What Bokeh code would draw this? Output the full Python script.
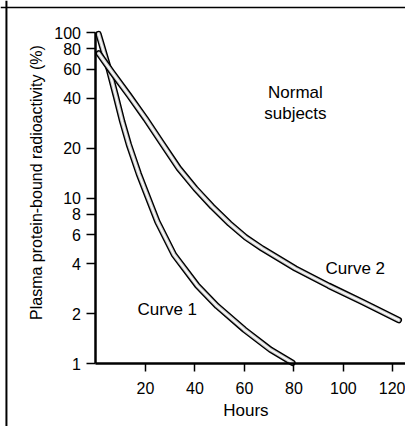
import math
from bokeh.plotting import figure
from bokeh.models import Range1d, FixedTicker, Label, Span
from bokeh.embed import file_html
from bokeh.resources import INLINE

# ---- data ----
curve1_hours = [1.0, 5.2, 7.9, 10.6, 13.3, 17.3, 20, 24.8, 31.5, 41, 49, 60, 70.6, 79.4]
curve1_values = [98, 60, 42, 29, 21, 14, 11.0, 7.2, 4.55, 2.95, 2.22, 1.6, 1.21, 1.01]

curve2_hours = [1.1, 6.5, 13.3, 20, 26.8, 33.5, 40.2, 47, 54, 60.4, 67.2, 80.6, 94.1, 107.6, 122.4]
curve2_values = [74.7, 57.5, 41.8, 30.2, 21.3, 15.1, 11.4, 8.85, 7.0, 5.8, 4.95, 3.75, 2.95, 2.36, 1.83]

x_ticks = [20, 40, 60, 80, 100, 120]
y_ticks = [1, 2, 4, 6, 8, 10, 20, 40, 60, 80, 100]
y_tick_labels = ["1", "2", "4", "6", "8", "10", "20", "40", "60", "80", "100"]

FONT = "Liberation Sans"

# The plotting frame covers the whole canvas; the axes sit at fixed positions
# inside it (hours = 0, value = 1), as in the scanned figure.
p = figure(width=405, height=426,
           x_range=Range1d(-38.6, 125.1), y_range=Range1d(0.4163, 156.1),
           y_axis_type="log", output_backend="svg", toolbar_location=None,
           min_border_left=0, min_border_right=0,
           min_border_top=0, min_border_bottom=0)
p.outline_line_color = None
p.grid.visible = False
p.background_fill_color = "white"
p.border_fill_color = "white"

for ax in (p.xaxis[0], p.yaxis[0]):
    ax.axis_line_width = 2.5
    ax.axis_line_color = "black"
    ax.major_tick_line_width = 1.5
    ax.major_tick_line_color = "black"
    ax.major_tick_in = 0
    ax.minor_tick_line_color = None
    ax.major_label_text_font = FONT
    ax.major_label_text_font_size = "16px"
    ax.major_label_text_color = "black"

p.xaxis.fixed_location = 1
p.xaxis.bounds = (0, 125.1)
p.xaxis.ticker = FixedTicker(ticks=x_ticks)
p.xaxis.major_tick_out = 8
p.xaxis.major_label_standoff = 10

p.yaxis.fixed_location = 0
p.yaxis.bounds = (1, 100)
p.yaxis.ticker = FixedTicker(ticks=y_ticks)
p.yaxis.major_label_overrides = {t: s for t, s in zip(y_ticks, y_tick_labels)}
p.yaxis.major_tick_out = 9
p.yaxis.major_label_standoff = 6


def draw_curve(xs, ys):
    p.line(xs, ys, line_color="black", line_width=6.4, line_cap="round", line_join="round")
    p.line(xs, ys, line_color="#d0d0d0", line_width=3.6, line_cap="round", line_join="round")
    p.line(xs, ys, line_color="white", line_width=1.3, line_cap="round", line_join="round")


draw_curve(curve1_hours, curve1_values)
draw_curve(curve2_hours, curve2_values)

# axis titles
p.add_layout(Label(x=60.6, y=0.52, text="Hours", text_align="center", text_baseline="middle",
                   text_font=FONT, text_font_size="17px", text_color="black"))
p.add_layout(Label(x=-24.0, y=12.4, text="Plasma protein-bound radioactivity (%)",
                   angle=math.pi / 2, text_align="center", text_baseline="middle",
                   text_font=FONT, text_font_size="16px", text_color="black"))

# in-plot annotations
for x, y, t in [(28.8, 2.11, "Curve 1"), (104.8, 3.75, "Curve 2"),
                (80.6, 43.4, "Normal"), (80.6, 32.4, "subjects")]:
    p.add_layout(Label(x=x, y=y, text=t, text_align="center", text_baseline="middle",
                       text_font=FONT, text_font_size="17px", text_color="black"))

# border lines of the scanned figure (left and top)
p.add_layout(Span(location=-36.2, dimension="height", line_color="black", line_width=2))
p.add_layout(Span(location=141.6, dimension="width", line_color="black", line_width=1.5))

open("out.html", "w").write(file_html(p, INLINE))
